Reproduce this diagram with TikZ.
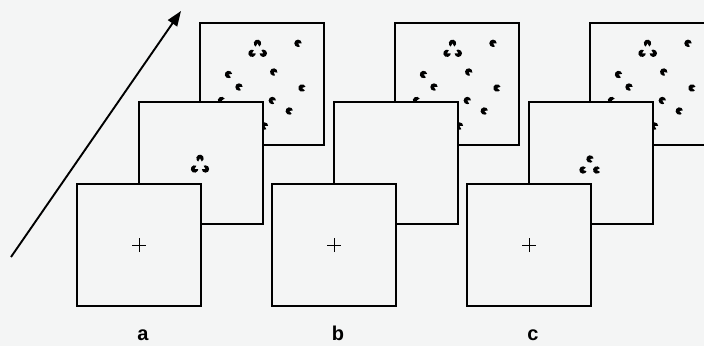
\documentclass[tikz,border=0pt]{standalone}
\usepackage{fontspec}
\setsansfont{Liberation Sans}
\usetikzlibrary{arrows.meta}
\definecolor{paper}{RGB}{244,245,245}

\begin{document}
\begin{tikzpicture}[x=1pt,y=1pt,>={Triangle[length=15pt,width=11pt]},
  frame/.style={draw,line width=2.1pt,fill=paper,minimum width=124pt,
    minimum height=122pt,inner sep=0pt,outer sep=0pt,anchor=north west},
  lbl/.style={font=\sffamily\bfseries\fontsize{20}{24}\selectfont,anchor=base},
  pac/.pic={\fill (0,0) -- (30:3.7) arc (30:330:3.7) -- cycle;}]
\path[fill=paper,use as bounding box] (0,0) rectangle (704,346);
\clip (0,0) rectangle (704,346);

% time axis
\coordinate (tail) at (11,89);
\coordinate (head) at (181,335);
\draw[->,line width=1.9pt] (tail) -- (head);

% three trial sequences, back to front
\foreach \g/\gx in {a/0,b/195,c/390}{
  \node[frame] (back-\g) at (200+\gx,323) {};
  \begin{scope}[shift={(back-\g.north west)}]
    \foreach \px/\py/\ang in {57.5/20.3/-90,52/30.3/30,63.3/30.3/150,
        98/20.3/-30,28.5/51.5/-20,73.7/49/-40,39/64/-30,102/65/-10,
        72.3/77.5/-30,89.3/88/-20,21.5/77.5/0,64.5/103/-30}
      \pic[rotate=\ang] at (\px,-\py) {pac};
  \end{scope}
  \node[frame] (mid-\g) at (139+\gx,244) {};
  \node[frame] (front-\g) at (77+\gx,162) {};
  \draw[line width=0.8pt] (front-\g.center) +(-7,0) -- +(7,0)
    (front-\g.center) +(0,-7) -- +(0,7);
  \node[lbl] (lab-\g) at (143+\gx,6) {\g};
}

% cue displays
\begin{scope}[shift={(mid-a.north west)}]
  \pic[rotate=-90] at (61,-56.3) {pac};
  \pic[rotate=30] at (55.5,-67) {pac};
  \pic[rotate=150] at (66.5,-67) {pac};
\end{scope}
\begin{scope}[shift={(mid-c.north west)}]
  \pic[rotate=-20] at (61,-57) {pac};
  \pic[rotate=10] at (54,-68) {pac};
  \pic[rotate=0] at (67.7,-68) {pac};
\end{scope}
\end{tikzpicture}
\end{document}
